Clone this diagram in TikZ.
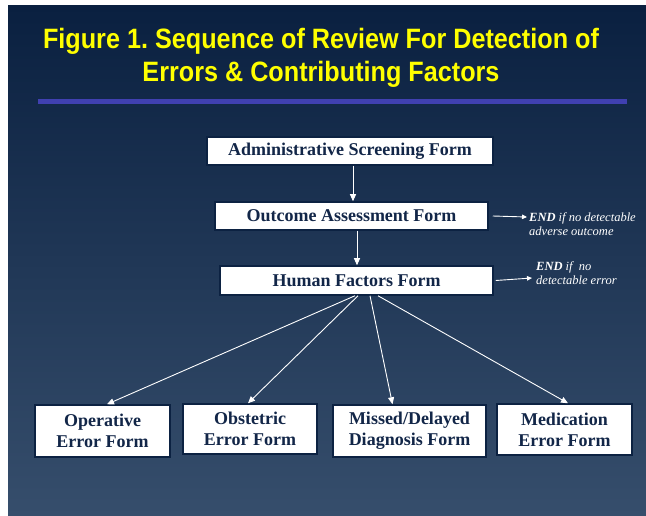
\documentclass[tikz,border=0pt]{standalone}
\usepackage{fontspec}
\setmainfont{Liberation Serif}
\newfontfamily\titlefont[FakeStretch=0.9]{Liberation Sans}
\usetikzlibrary{arrows.meta}
\definecolor{slidetop}{RGB}{10,32,64}
\definecolor{slidebottom}{RGB}{54,78,108}
\definecolor{formtext}{RGB}{18,38,72}
\definecolor{formedge}{RGB}{12,34,66}
\definecolor{titlebar}{RGB}{64,64,176}
\definecolor{titleyellow}{RGB}{255,255,0}
\frenchspacing

\begin{document}
\begin{tikzpicture}[x=1pt, y=-1pt,
		form/.style={draw=formedge, line width=1.5pt, fill=white, text=formtext, inner sep=0pt, align=center, font=\bfseries\fontsize{18}{21}\selectfont},
		flow/.style={draw=white, line width=0.9pt, -{Triangle[width=6pt,length=7pt]}},
		sideflow/.style={draw=white, line width=0.9pt, -{Triangle[width=4.5pt,length=5pt]}},
		endnote/.style={text=white, anchor=west, inner sep=0pt, align=left, font=\itshape\fontsize{12.5}{14}\selectfont}]
		\useasboundingbox (0,0) rectangle (646,516);

		% Slide background and heading
		\shade[top color=slidetop, bottom color=slidebottom] (8,6) rectangle (646,516);
		\node[text=titleyellow, align=center, font=\titlefont\bfseries\fontsize{28}{33}\selectfont] (title) at (321,58) {Figure 1. Sequence of Review For Detection of\\Errors \& Contributing Factors};
		\fill[titlebar] (38,99) rectangle (627,104);

		% Screening chain
		\node[form, minimum width=286pt, minimum height=28pt] (admin) at (350,151) {Administrative Screening Form};
		\node[form, minimum width=273pt, minimum height=28pt] (outcome) at (351.5,216) {Outcome Assessment Form};
		\node[form, minimum width=273pt, minimum height=29pt] (human) at (356.5,280.5) {Human Factors Form};

		% Exits
		\coordinate (endAtip) at (527,217);
		\coordinate (endBtip) at (532,278);
		\node[endnote] (endA) at (529,224.5) {\textbf{END} if no detectable\\adverse outcome};
		\node[endnote] (endB) at (536,273) {\textbf{END} if \ no\\detectable error};

		% Error forms
		\node[form, minimum width=135pt, minimum height=52pt] (operative) at (102.5,431) {Operative\\Error Form};
		\node[form, minimum width=134pt, minimum height=50pt] (obstetric) at (250,429) {Obstetric\\Error Form};
		\node[form, minimum width=153pt, minimum height=52pt] (missed) at (409.5,431) {Missed/Delayed\\Diagnosis Form};
		\node[form, minimum width=135pt, minimum height=51pt] (medication) at (564.5,429.5) {Medication\\Error Form};

		% Connectors
		\draw[flow] ([xshift=3pt]admin.south) -- ([xshift=3pt]admin.south |- outcome.north);
		\draw[flow] ([xshift=5.5pt]outcome.south) -- ([xshift=5.5pt]outcome.south |- human.north);
		\draw[sideflow] ([xshift=4pt]outcome.east) -- (endAtip);
		\draw[sideflow] ([xshift=2pt]human.east) -- (endBtip);
		\draw[flow] ([xshift=-1.5pt]human.south) -- ([xshift=4.5pt]operative.north);
		\draw[flow] ([xshift=1.5pt]human.south) -- ([xshift=-2pt]obstetric.north);
		\draw[flow] ([xshift=13.5pt]human.south) -- ([xshift=-17pt]missed.north);
		\draw[flow] ([xshift=21.5pt]human.south) -- ([xshift=3.5pt]medication.north);
	\end{tikzpicture}
\end{document}
